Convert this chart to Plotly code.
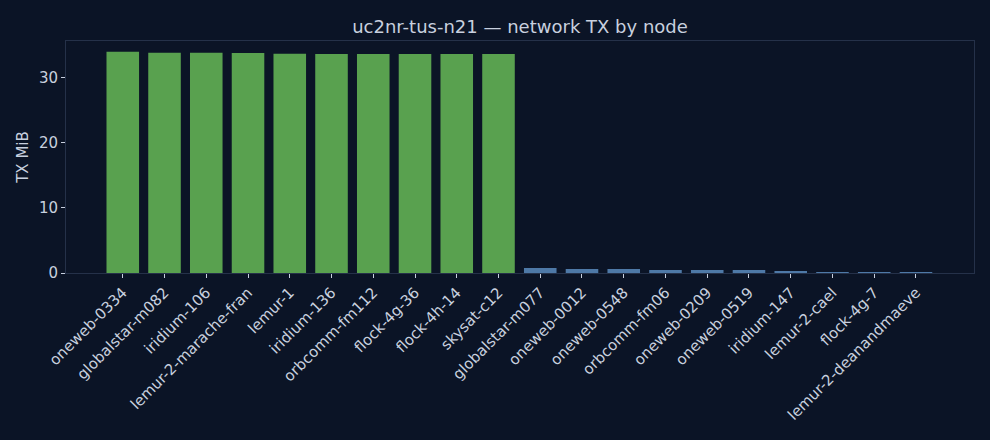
import plotly.graph_objects as go

# TX per node, sorted desc; first ten nodes are the "heavy" group
nodes = [
    "oneweb-0334", "globalstar-m082", "iridium-106", "lemur-2-marache-fran",
    "lemur-1", "iridium-136", "orbcomm-fm112", "flock-4g-36", "flock-4h-14",
    "skysat-c12", "globalstar-m077", "oneweb-0012", "oneweb-0548",
    "orbcomm-fm06", "oneweb-0209", "oneweb-0519", "iridium-147",
    "lemur-2-cael", "flock-4g-7", "lemur-2-deanandmaeve",
]
tx_mib = [
    33.94, 33.79, 33.78, 33.77, 33.63, 33.62, 33.62, 33.61, 33.61, 33.60,
    0.78, 0.62, 0.61, 0.47, 0.46, 0.45, 0.31, 0.15, 0.14, 0.13,
]
heavy = [True] * 10 + [False] * 10

BG = "#0b1426"
TXT = "#c8d0df"
FRAME = "#253149"

colors = ["#59a14f" if h else "#4e79a7" for h in heavy]

fig = go.Figure()
fig.add_trace(go.Bar(
    x=nodes, y=tx_mib,
    marker=dict(color=colors, line=dict(width=0)),
    width=0.78,
))

fig.update_layout(
    title=dict(text="uc2nr-tus-n21 — network TX by node", x=0.5, xref="paper",
               y=1 - 27 / 440, yref="container", yanchor="middle",
               font=dict(size=18, color=TXT)),
    paper_bgcolor=BG, plot_bgcolor=BG,
    font=dict(family="DejaVu Sans", size=15, color=TXT),
    width=990, height=440,
    margin=dict(l=66, r=16, t=41, b=167),
    showlegend=False,
    xaxis=dict(
        range=[-1.36, 20.39], tickangle=-45,
        showgrid=False, zeroline=False,
        showline=True, linecolor=FRAME, linewidth=1, mirror=True,
        ticks="outside", ticklen=4, tickcolor=TXT, tickwidth=1,
        tickfont=dict(size=15, color=TXT),
    ),
    yaxis=dict(
        range=[0, 35.6], title=dict(text="TX MiB", font=dict(size=15, color=TXT), standoff=6),
        tickvals=[0, 10, 20, 30],
        showgrid=False, zeroline=False,
        showline=True, linecolor=FRAME, linewidth=1, mirror=True,
        ticks="outside", ticklen=4, tickcolor=TXT, tickwidth=1,
        tickfont=dict(size=15, color=TXT),
    ),
)

fig.write_html("out.html", config={"displayModeBar": False},
               post_script="document.body.style.margin='0';document.body.style.overflow='hidden';")
